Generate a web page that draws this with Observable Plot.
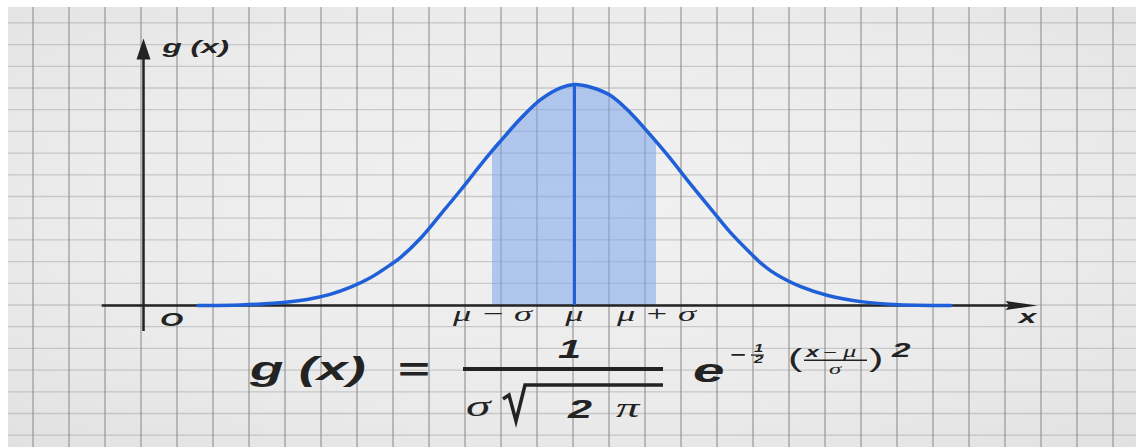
<!DOCTYPE html>
<html>
<head>
<meta charset="utf-8">
<script src="https://cdn.jsdelivr.net/npm/d3@7"></script>
<script src="https://cdn.jsdelivr.net/npm/@observablehq/plot@0.6"></script>
<style>
  html, body { margin: 0; padding: 0; background: #ffffff; }
  #stage { position: relative; width: 1136px; height: 447px; overflow: hidden; background: #ffffff; }
  #paper { position: absolute; left: 8px; top: 7px; }
  #chart { position: absolute; left: 0; top: 0; }
</style>
</head>
<body>
<div id="stage">
  <svg id="paper" width="1128" height="440"></svg>
  <div id="chart"></div>
</div>
<script>
// Bell curve g(x), sampled along the axis in units of σ measured from μ
const curveX = [-4.59, -4.07, -3.67, -3.26, -2.98, -2.73, -2.49, -2.24, -2.12, -1.88, -1.63, -1.39, -1.15, -1.00, -0.90, -0.66, -0.41, -0.17, 0,
                0.20, 0.44, 0.68, 0.93, 1.00, 1.17, 1.41, 1.66, 1.90, 2.15, 2.27, 2.39, 2.51, 2.76, 3.09, 3.49, 3.89, 4.59];
const curveG = [0.000, 0.001, 0.004, 0.011, 0.020, 0.033, 0.050, 0.074, 0.087, 0.121, 0.165, 0.208, 0.253, 0.280, 0.297, 0.337, 0.372, 0.393, 0.399,
                0.394, 0.379, 0.348, 0.307, 0.295, 0.265, 0.220, 0.175, 0.132, 0.094, 0.077, 0.063, 0.052, 0.034, 0.018, 0.007, 0.002, 0.000];

// Marked positions under the axis
const bandTicks = [-1, 0, 1];
const bandLabels = ["μ − σ", "μ", "μ + σ"];

// Axes: where the vertical axis stands and how far each axis runs
const yAxisAt = -5.256;
const xAxisSpan = [-5.76, 5.646];
const yAxisSpan = [-0.047, 0.482];

const curve = curveX.map((x, i) => ({x, g: curveG[i]}));
const band = curve.filter(d => d.x >= bandTicks[0] && d.x <= bandTicks[2]);
const peak = d3.max(curveG);

const ink = "#232323";
const blue = "#1f5fd8";
const sans = '"Liberation Sans", Arial, sans-serif';
const serif = '"Liberation Serif", "Times New Roman", serif';
const STRETCH = 1.66; // lettering is drawn wide, like the paper squares

// ---- graph paper ----
const paper = d3.select("#paper");
const defs = paper.append("defs");
const grad = defs.append("radialGradient").attr("id", "sheet").attr("cx", "50%").attr("cy", "45%").attr("r", "75%");
grad.append("stop").attr("offset", "0%").attr("stop-color", "#f1f1f1");
grad.append("stop").attr("offset", "60%").attr("stop-color", "#ebebeb");
grad.append("stop").attr("offset", "100%").attr("stop-color", "#e1e1e1");
defs.append("filter").attr("id", "soft").append("feGaussianBlur").attr("stdDeviation", 0.45);
paper.append("rect").attr("width", 1128).attr("height", 440).attr("fill", "url(#sheet)");
const rules = paper.append("g").attr("filter", "url(#soft)");
rules.selectAll("line.h").data(d3.range(0, 21)).join("line")
  .attr("x1", 0).attr("x2", 1128)
  .attr("y1", k => 15.9 + 21.7 * k).attr("y2", k => 15.9 + 21.7 * k)
  .attr("stroke", "#a9a9a9").attr("stroke-width", 1.3).attr("stroke-opacity", 0.55);
rules.selectAll("line.v").data(d3.range(0, 32)).join("line")
  .attr("y1", 0).attr("y2", 440)
  .attr("x1", k => 25 + 36 * k).attr("x2", k => 25 + 36 * k)
  .attr("stroke", "#8f8f8f").attr("stroke-width", 1.5).attr("stroke-opacity", 0.72);

// ---- arrowheads ----
const upHead = {draw(c) { c.moveTo(0, 0); c.lineTo(7, 21); c.lineTo(-7, 21); c.closePath(); }};
const rightHead = {draw(c) { c.moveTo(0, 0); c.lineTo(-32, -4.5); c.lineTo(-28, 0); c.lineTo(-32, 4.5); c.closePath(); }};

const labelFont = {fontFamily: sans, fontWeight: "bold", fontStyle: "italic", fill: ink};

const plot = Plot.plot({
  width: 1136,
  height: 447,
  margin: 0,
  style: {background: "transparent", overflow: "visible"},
  x: {domain: [0, 1], range: [574, 656], axis: null},
  y: {domain: [0, 0.4], range: [305, 83.4], axis: null},
  marks: [
    Plot.areaY(band, {x: "x", y: "g", curve: "catmull-rom", fill: "#7ea4ea", fillOpacity: 0.55}),
    Plot.ruleY([0], {x1: xAxisSpan[0], x2: xAxisSpan[1] - 0.2, stroke: ink, strokeWidth: 2.5}),
    Plot.ruleX([yAxisAt], {y1: yAxisSpan[0], y2: yAxisSpan[1] - 0.02, stroke: ink, strokeWidth: 2.5}),
    Plot.line(curve, {x: "x", y: "g", curve: "catmull-rom", stroke: blue, strokeWidth: 3.5}),
    Plot.ruleX([0], {y1: 0, y2: peak, stroke: blue, strokeWidth: 3}),
    Plot.dot([0], {x: xAxisSpan[1], y: 0, symbol: rightHead, fill: ink, stroke: null}),
    Plot.dot([0], {x: yAxisAt, y: yAxisSpan[1], symbol: upHead, fill: ink, stroke: null}),
    Plot.text(["g (x)"], {x: yAxisAt, y: yAxisSpan[1], text: d => d, textAnchor: "start", lineAnchor: "bottom", dx: 19, dy: 15, fontSize: 19, ...labelFont}),
    Plot.text(["O"], {x: yAxisAt, y: 0, text: d => d, textAnchor: "middle", lineAnchor: "bottom", dx: 28, dy: 20, fontSize: 18, ...labelFont}),
    Plot.text(["x"], {x: xAxisSpan[1], y: 0, text: d => d, textAnchor: "middle", lineAnchor: "bottom", dx: -10, dy: 17, fontSize: 19, ...labelFont}),
    Plot.text(bandTicks, {x: d => d, y: 0, text: (d, i) => bandLabels[i], textAnchor: "middle", lineAnchor: "bottom", dy: 15,
      fontFamily: serif, fontStyle: "italic", fontSize: 22, fill: ink})
  ]
});

// widen the lettering around each label's anchor
function widen(selection) {
  selection.each(function () {
    const x = +this.getAttribute("x") || 0, y = +this.getAttribute("y") || 0;
    const t = this.getAttribute("transform") || "";
    this.setAttribute("transform", `${t} translate(${x},${y}) scale(${STRETCH},1) translate(${-x},${-y})`.trim());
  });
}
widen(d3.select(plot).selectAll("g[aria-label=text] text"));

// ---- the density formula ----
const f = d3.select(plot).append("g").attr("fill", ink).attr("text-anchor", "start");
function put(str, x, y, size, family, weight, style = "italic") {
  f.append("text")
    .attr("transform", `translate(${x},${y}) scale(${STRETCH},1)`)
    .attr("font-family", family).attr("font-size", size)
    .attr("font-weight", weight).attr("font-style", style)
    .text(str);
}
function bar(x, y, w, h) {
  f.append("rect").attr("x", x).attr("y", y).attr("width", w).attr("height", h);
}
put("g (x)", 250, 380, 33, sans, "bold");
put("=", 398, 381, 33, sans, "bold", "normal");
put("1", 558, 358, 25, sans, "bold");
bar(463, 367, 200, 4);
put("σ", 466, 416, 30, serif, "normal");
f.append("path")
  .attr("d", "M503,399 L509,395 L516,421 L525,385 L663,385")
  .attr("fill", "none").attr("stroke", ink).attr("stroke-width", 3.5).attr("stroke-linejoin", "miter");
put("2", 568, 418, 26, sans, "bold");
put("π", 616, 417, 28, serif, "normal");
put("e", 693, 382, 34, sans, "bold");
put("−", 730, 360, 16, sans, "bold", "normal");
put("1", 754, 352, 10, sans, "bold");
bar(751, 354.5, 13, 1.2);
put("2", 754, 363, 10, sans, "bold");
put("(", 788, 367, 26, sans, "normal", "normal");
put("x", 806, 357, 14, sans, "bold");
put("−", 823, 357, 14, sans, "normal", "normal");
put("μ", 843, 357, 16, serif, "normal");
bar(804, 359.5, 63, 1.5);
put("σ", 829, 374, 15, serif, "normal");
put(")", 869, 367, 26, sans, "normal", "normal");
put("2", 892, 357, 20, sans, "bold");

document.getElementById("chart").appendChild(plot);
</script>
</body>
</html>
